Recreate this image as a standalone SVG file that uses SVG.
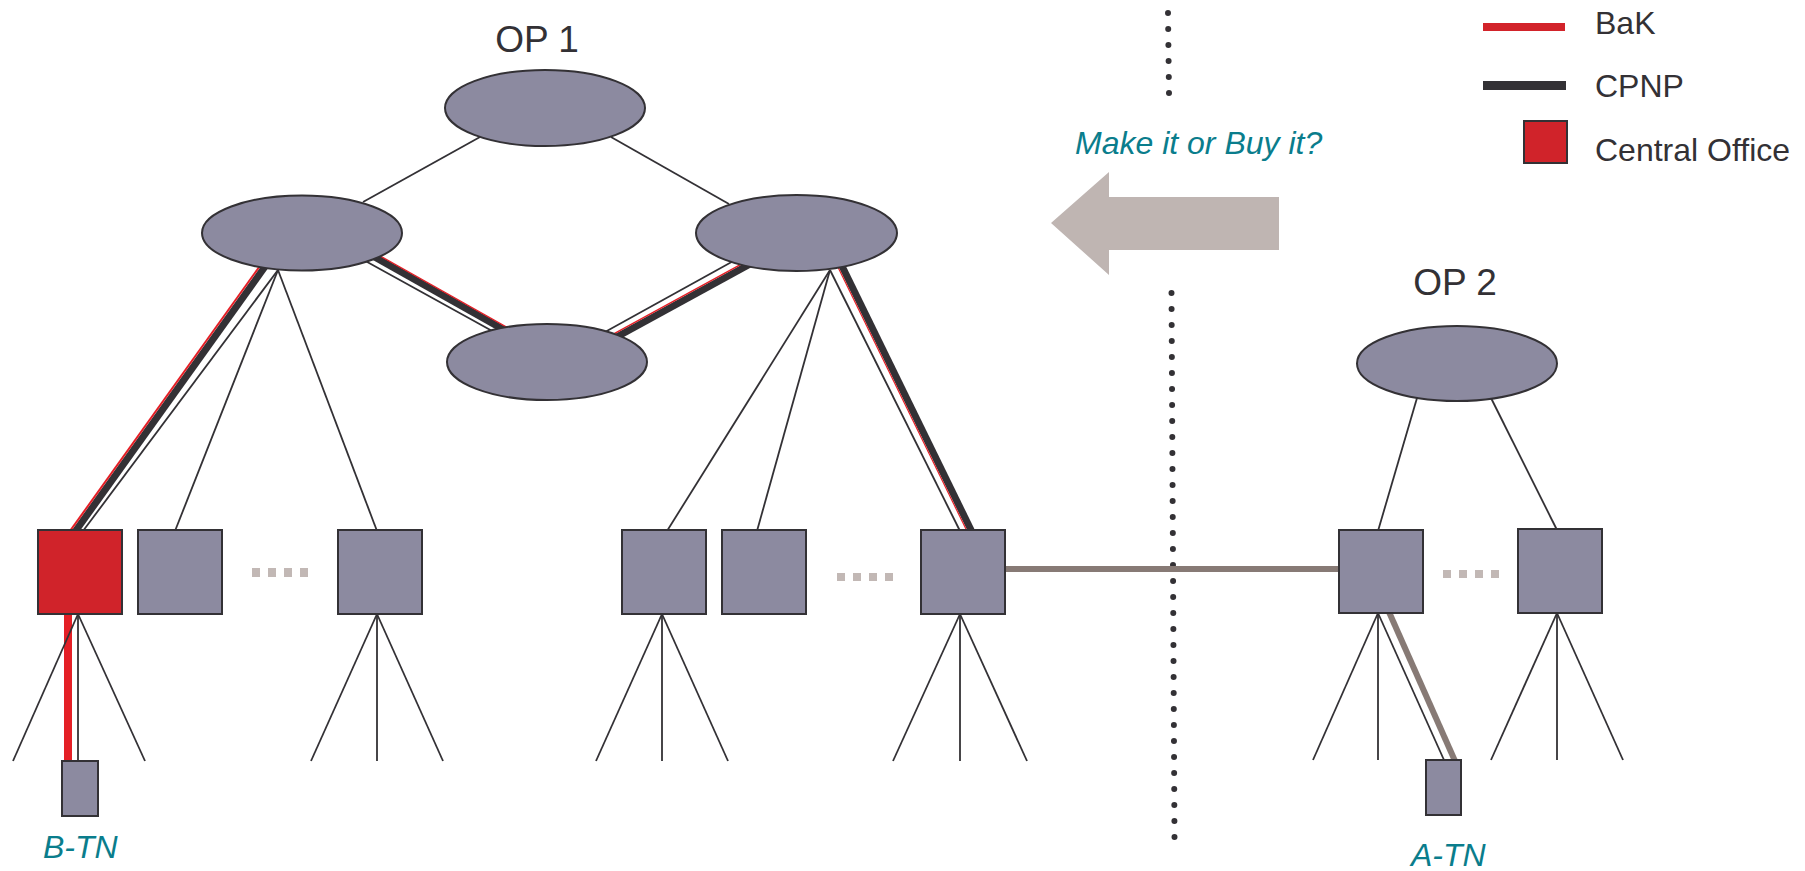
<svg xmlns="http://www.w3.org/2000/svg" width="1805" height="871" viewBox="0 0 1805 871">
  <defs>
    <style>
      .node { fill: #8c8aa0; stroke: #333135; stroke-width: 2; }
      .co { fill: #d0232a; stroke: #333135; stroke-width: 2; }
      .thin { stroke: #333135; stroke-width: 1.8; fill: none; }
      .cpnp { stroke: #333135; stroke-width: 7; fill: none; }
      .bak { stroke: #e41f26; fill: none; }
      .lease { stroke: #877a75; stroke-width: 6; fill: none; }
      .ellip { fill: #c2b8b5; }
      .border { stroke: #333135; stroke-width: 6; stroke-linecap: round; stroke-dasharray: 0 16; fill: none; }
      .label { font-family: "Liberation Sans", Arial, sans-serif; fill: #333135; }
      .note { font-family: "Liberation Sans", Arial, sans-serif; font-style: italic; fill: #0a7d8c; }
    </style>
  </defs>

  <!-- operator border (dotted) -->
  <g id="border">
    <line class="border" x1="1168" y1="13" x2="1169" y2="93"/>
    <line class="border" x1="1171.5" y1="293" x2="1174.5" y2="837"/>
  </g>

  <!-- make-or-buy arrow -->
  <g id="arrow">
    <polygon points="1051,223 1109,172 1109,197 1279,197 1279,250 1109,250 1109,275" fill="#bfb5b2"/>
    <text class="note" x="1075" y="154" font-size="32">Make it or Buy it?</text>
  </g>

  <g id="connectors">
    <!-- OP 1 core -->
    <line class="thin" x1="480" y1="137" x2="363" y2="202"/>
    <line class="thin" x1="611" y1="137" x2="729" y2="204"/>

    <!-- left aggregation to middle core -->
    <line class="thin" x1="360" y1="258" x2="494" y2="332"/>
    <line class="cpnp" x1="371" y1="255" x2="512" y2="334.4"/>
    <line class="bak" x1="372.8" y1="251.8" x2="513.8" y2="331.2" stroke-width="1.3"/>

    <!-- middle core to right aggregation -->
    <line class="thin" x1="605" y1="332" x2="737" y2="259"/>
    <line class="cpnp" x1="613" y1="339" x2="752" y2="263"/>
    <line class="bak" x1="611" y1="335.3" x2="750" y2="259.3" stroke-width="1.5"/>

    <!-- left aggregation to access nodes -->
    <line class="thin" x1="278" y1="270" x2="83" y2="531"/>
    <line class="thin" x1="278" y1="270" x2="175" y2="531"/>
    <line class="thin" x1="278" y1="270" x2="377" y2="531"/>
    <line class="cpnp" x1="269" y1="261" x2="72" y2="536"/>
    <line class="bak" x1="265.3" y1="258.4" x2="68.3" y2="533.4" stroke-width="2"/>

    <!-- right aggregation to access nodes -->
    <line class="thin" x1="830" y1="270" x2="667" y2="531"/>
    <line class="thin" x1="830" y1="270" x2="757" y2="531"/>
    <line class="thin" x1="830" y1="270" x2="960" y2="531"/>
    <line class="cpnp" x1="840" y1="262" x2="972" y2="532"/>
    <line class="bak" x1="836.3" y1="263.8" x2="968.3" y2="533.8" stroke-width="1.2"/>

    <!-- OP 2 core to access nodes -->
    <line class="thin" x1="1417" y1="398" x2="1378" y2="531"/>
    <line class="thin" x1="1491" y1="398" x2="1557" y2="530"/>

    <!-- leaves OP 1 -->
    <line class="bak" x1="68" y1="614" x2="68" y2="761" stroke-width="8"/>
    <line class="thin" x1="78" y1="614" x2="13" y2="761"/>
    <line class="thin" x1="78" y1="614" x2="78" y2="761"/>
    <line class="thin" x1="78" y1="614" x2="145" y2="761"/>
    <line class="thin" x1="377" y1="614" x2="311" y2="761"/>
    <line class="thin" x1="377" y1="614" x2="377" y2="761"/>
    <line class="thin" x1="377" y1="614" x2="443" y2="761"/>
    <line class="thin" x1="662" y1="614" x2="596" y2="761"/>
    <line class="thin" x1="662" y1="614" x2="662" y2="761"/>
    <line class="thin" x1="662" y1="614" x2="728" y2="761"/>
    <line class="thin" x1="960" y1="614" x2="893" y2="761"/>
    <line class="thin" x1="960" y1="614" x2="960" y2="761"/>
    <line class="thin" x1="960" y1="614" x2="1027" y2="761"/>

    <!-- leaves OP 2 -->
    <line class="thin" x1="1378" y1="613" x2="1313" y2="760"/>
    <line class="thin" x1="1378" y1="613" x2="1378" y2="760"/>
    <line class="thin" x1="1378" y1="613" x2="1444" y2="760"/>
    <line class="thin" x1="1557" y1="613" x2="1491" y2="760"/>
    <line class="thin" x1="1557" y1="613" x2="1557" y2="760"/>
    <line class="thin" x1="1557" y1="613" x2="1623" y2="760"/>

    <!-- interconnection between operators -->
    <line class="lease" x1="1004" y1="569" x2="1340" y2="569"/>
    <line class="lease" x1="1389" y1="612" x2="1455" y2="761"/>
  </g>

  <!-- OP 1 nodes -->
  <g id="op1-core">
    <ellipse class="node" cx="545" cy="108" rx="100" ry="38"/>
    <text class="label" x="537" y="52" font-size="37" text-anchor="middle">OP 1</text>
  </g>
  <g id="op1-agg-left"><ellipse class="node" cx="302" cy="233" rx="100" ry="37.5"/></g>
  <g id="op1-agg-right"><ellipse class="node" cx="796.5" cy="233" rx="100.5" ry="38"/></g>
  <g id="op1-core-mid"><ellipse class="node" cx="547" cy="362" rx="100" ry="38"/></g>

  <g id="op1-co-1"><rect class="co" x="38" y="530" width="84" height="84"/></g>
  <g id="op1-acc-2"><rect class="node" x="138" y="530" width="84" height="84"/></g>
  <g id="op1-gap-left">
    <rect class="ellip" x="252" y="568" width="8" height="9"/>
    <rect class="ellip" x="268" y="568" width="8" height="9"/>
    <rect class="ellip" x="284" y="568" width="8" height="9"/>
    <rect class="ellip" x="300" y="568" width="8" height="9"/>
  </g>
  <g id="op1-acc-3"><rect class="node" x="338" y="530" width="84" height="84"/></g>
  <g id="op1-acc-4"><rect class="node" x="622" y="530" width="84" height="84"/></g>
  <g id="op1-acc-5"><rect class="node" x="722" y="530" width="84" height="84"/></g>
  <g id="op1-gap-right">
    <rect class="ellip" x="837" y="573" width="8" height="8"/>
    <rect class="ellip" x="853" y="573" width="8" height="8"/>
    <rect class="ellip" x="869" y="573" width="8" height="8"/>
    <rect class="ellip" x="885" y="573" width="8" height="8"/>
  </g>
  <g id="op1-acc-6"><rect class="node" x="921" y="530" width="84" height="84"/></g>

  <g id="b-tn">
    <rect class="node" x="62" y="761" width="36" height="55"/>
    <text class="note" x="43" y="858" font-size="32">B-TN</text>
  </g>

  <!-- OP 2 nodes -->
  <g id="op2-core">
    <ellipse class="node" cx="1457" cy="363.5" rx="100" ry="37.5"/>
    <text class="label" x="1455" y="295" font-size="37" text-anchor="middle">OP 2</text>
  </g>
  <g id="op2-acc-1"><rect class="node" x="1339" y="530" width="84" height="83"/></g>
  <g id="op2-gap">
    <rect class="ellip" x="1443" y="570" width="8" height="8"/>
    <rect class="ellip" x="1459" y="570" width="8" height="8"/>
    <rect class="ellip" x="1475" y="570" width="8" height="8"/>
    <rect class="ellip" x="1491" y="570" width="8" height="8"/>
  </g>
  <g id="op2-acc-2"><rect class="node" x="1518" y="529" width="84" height="84"/></g>

  <g id="a-tn">
    <rect class="node" x="1426" y="760" width="35" height="55"/>
    <text class="note" x="1411" y="866" font-size="32">A-TN</text>
  </g>

  <!-- legend -->
  <g id="legend">
    <line x1="1483" y1="27" x2="1565" y2="27" stroke="#d2232a" stroke-width="8"/>
    <text class="label" x="1595" y="34" font-size="32">BaK</text>
    <line x1="1483" y1="85.5" x2="1566" y2="85.5" stroke="#333135" stroke-width="9"/>
    <text class="label" x="1595" y="97" font-size="32">CPNP</text>
    <rect class="co" x="1524" y="121" width="43" height="42"/>
    <text class="label" x="1595" y="161" font-size="32">Central Office</text>
  </g>
</svg>
